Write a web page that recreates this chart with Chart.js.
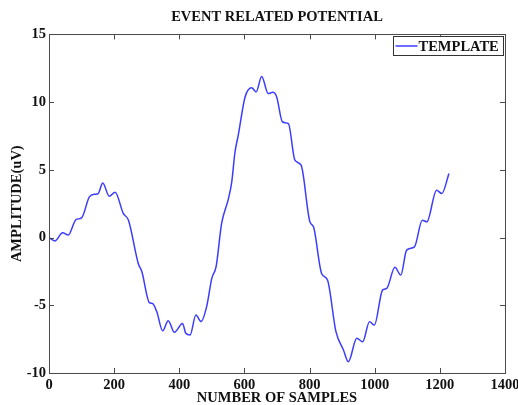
<!DOCTYPE html>
<html>
<head>
<meta charset="utf-8">
<script src="https://cdn.jsdelivr.net/npm/chart.js@4/dist/chart.umd.min.js"></script>
<style>
  html, body { margin: 0; padding: 0; background: #fff; }
  #wrap { width: 518px; height: 405px; }
</style>
</head>
<body>
<div id="wrap"><canvas id="erp"></canvas></div>
<script>
// samples
const samples = [0, 18, 42, 59, 83, 100, 124, 141, 151, 165, 185, 203, 228, 244, 274, 285,
    308, 318, 331, 349, 366, 385, 410, 420, 433, 451, 467, 484, 500, 513, 530, 551, 561, 571,
    581, 602, 622, 636, 653, 673, 687, 699, 717, 735, 755, 774, 801, 812, 837, 855, 881, 904,
    919, 945, 963, 984, 999, 1024, 1037, 1062, 1080, 1098, 1122, 1146, 1160, 1190, 1206, 1228];
const amplitude = [0, -0.25, 0.35, 0.18, 1.33, 1.45, 3.0, 3.2, 3.25, 4.03, 3.05, 3.35, 1.78, 1.28, -1.91, -2.5,
    -4.8, -4.87, -5.48, -6.88, -6.14, -7.0, -6.34, -7.07, -7.2, -5.72, -6.2, -5.1, -3.0, -2.15, 1.04, 2.88, 4.1, 6.3,
    7.55, 10.38, 11.07, 10.75, 11.9, 10.63, 10.72, 10.38, 8.53, 8.41, 5.71, 5.34, 1.16, 0.79, -2.65, -3.14, -6.95, -8.3,
    -9.17, -7.44, -7.69, -6.22, -6.46, -3.88, -3.75, -2.2, -2.77, -0.93, -0.69, 1.28, 1.16, 3.5, 3.25, 4.73];
const xTicks = [0, 200, 400, 600, 800, 1000, 1200, 1400];
const yTicks = [-10, -5, 0, 5, 10, 15];

const serif = '"Liberation Serif", "Times New Roman", serif';
const boldFont = { family: serif, size: 14.5, weight: 'bold' };
const lineColor = '#3c3cff';
const axisColor = '#4a4a4a';

// matlab style box, inward ticks and boxed legend
const matlabFrame = {
    id: 'matlabFrame',
    afterDraw(chart) {
        const ctx = chart.ctx;
        const a = chart.chartArea;
        const xs = chart.scales.x, ys = chart.scales.y;
        ctx.save();
        ctx.strokeStyle = axisColor;
        ctx.lineWidth = 1;
        ctx.strokeRect(Math.round(a.left) + 0.5, Math.round(a.top) + 0.5,
            Math.round(a.right - a.left), Math.round(a.bottom - a.top));
        ctx.beginPath();
        xTicks.forEach(v => {
            const px = Math.round(xs.getPixelForValue(v)) + 0.5;
            ctx.moveTo(px, a.bottom); ctx.lineTo(px, a.bottom - 5);
            ctx.moveTo(px, a.top); ctx.lineTo(px, a.top + 5);
        });
        yTicks.forEach(v => {
            const py = Math.round(ys.getPixelForValue(v)) + 0.5;
            ctx.moveTo(a.left, py); ctx.lineTo(a.left + 5, py);
            ctx.moveTo(a.right, py); ctx.lineTo(a.right - 5, py);
        });
        ctx.stroke();

        // legend
        const bw = 110, bh = 19;
        const bx = Math.round(a.right) - bw - 2 + 0.5, by = Math.round(a.top) + 2 + 0.5;
        ctx.fillStyle = '#fff';
        ctx.fillRect(bx, by, bw, bh);
        ctx.strokeStyle = '#333';
        ctx.strokeRect(bx, by, bw, bh);
        ctx.strokeStyle = lineColor;
        ctx.lineWidth = 1.5;
        ctx.beginPath();
        ctx.moveTo(bx + 2, by + bh / 2);
        ctx.lineTo(bx + 24, by + bh / 2);
        ctx.stroke();
        ctx.fillStyle = '#111';
        ctx.font = 'bold 14.5px ' + serif;
        ctx.textBaseline = 'middle';
        ctx.textAlign = 'left';
        ctx.fillText(chart.data.datasets[0].label, bx + 25, by + bh / 2 + 1);
        ctx.restore();
    }
};

new Chart(document.getElementById('erp'), {
    type: 'line',
    data: {
        datasets: [{
            label: 'TEMPLATE',
            data: samples.map((s, i) => ({ x: s, y: amplitude[i] })),
            borderColor: lineColor,
            borderWidth: 1.5,
            pointRadius: 0,
            cubicInterpolationMode: 'monotone',
            fill: false
        }]
    },
    options: {
        responsive: true,
        maintainAspectRatio: false,
        animation: false,
        layout: { padding: { left: 0, right: 13, top: 0, bottom: 0 } },
        plugins: {
            legend: { display: false },
            tooltip: { enabled: false },
            title: {
                display: true,
                fullSize: false,
                text: 'EVENT RELATED POTENTIAL',
                color: '#111',
                font: boldFont,
                padding: { top: 9, bottom: 8 }
            }
        },
        scales: {
            x: {
                type: 'linear',
                min: 0,
                max: 1400,
                afterBuildTicks: s => { s.ticks = xTicks.map(v => ({ value: v })); },
                afterFit: s => { s.height = 32; s.paddingLeft = 0; s.paddingRight = 0; },
                grid: { display: false, drawTicks: false },
                border: { display: false },
                ticks: {
                    color: '#111',
                    padding: 4,
                    maxRotation: 0,
                    autoSkip: false,
                    font: boldFont,
                    callback: v => String(v)
                },
                title: {
                    display: true,
                    text: 'NUMBER OF SAMPLES',
                    color: '#111',
                    font: { family: serif, size: 14.5, weight: 'bold', lineHeight: 1.0 },
                    padding: { top: 0, bottom: 0 }
                }
            },
            y: {
                min: -10,
                max: 15,
                afterBuildTicks: s => { s.ticks = yTicks.map(v => ({ value: v })); },
                afterFit: s => { s.width = 49; },
                grid: { display: false, drawTicks: false },
                border: { display: false },
                ticks: {
                    color: '#111',
                    padding: 3,
                    autoSkip: false,
                    font: boldFont,
                    callback: v => String(v)
                },
                title: {
                    display: true,
                    text: 'AMPLITUDE(uV)',
                    color: '#111',
                    font: boldFont,
                    padding: { top: 9, bottom: 0 }
                }
            }
        }
    },
    plugins: [matlabFrame]
});
</script>
</body>
</html>
